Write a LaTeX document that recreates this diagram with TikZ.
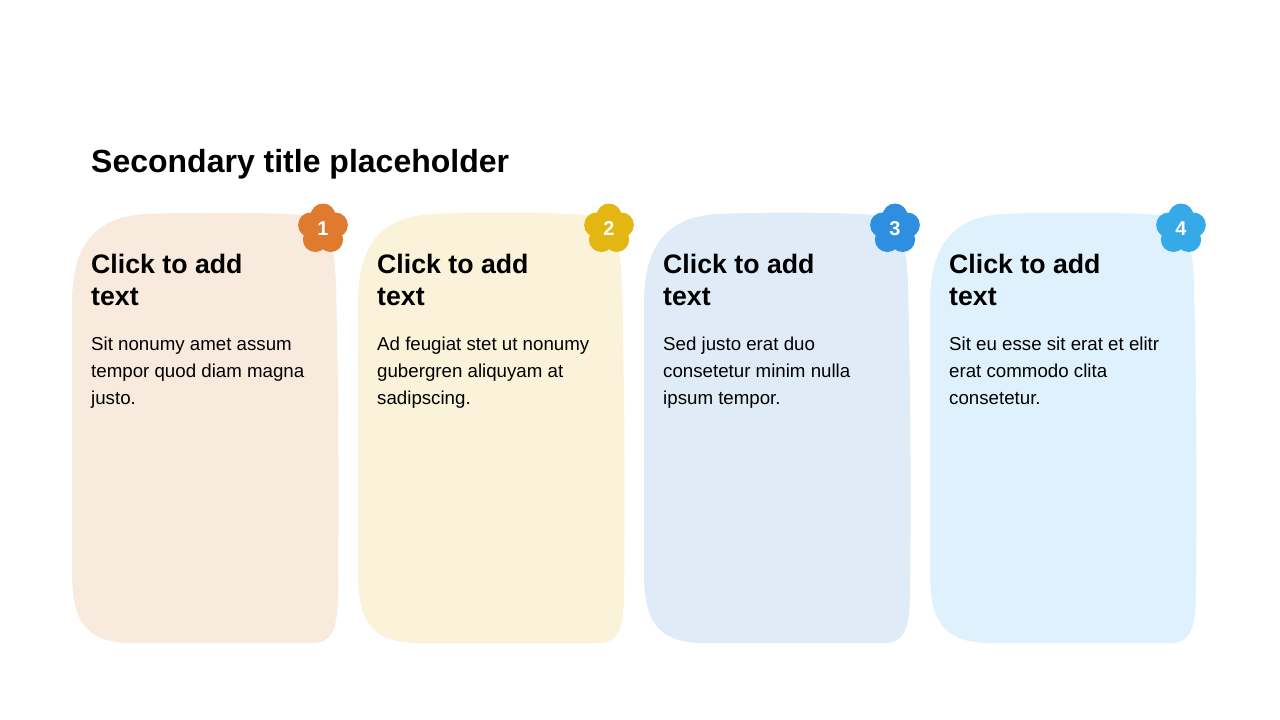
\documentclass[tikz,border=0pt]{standalone}
\usepackage{fontspec}
\setmainfont{Liberation Sans}
\definecolor{paperA}{HTML}{F9EADE}
\definecolor{paperB}{HTML}{FBF2DA}
\definecolor{paperC}{HTML}{DFECF8}
\definecolor{paperD}{HTML}{DFF1FC}
\definecolor{petalA}{HTML}{E07A2E}
\definecolor{petalB}{HTML}{E4B612}
\definecolor{petalC}{HTML}{2E8EDF}
\definecolor{petalD}{HTML}{36AAE8}

\tikzset{
  slide/.style={x=1pt,y=-1pt,
    every node/.style={inner sep=0pt},
    title/.style={anchor=base west,font=\bfseries\fontsize{32}{38}\selectfont},
    head/.style={anchor=base west,align=left,font=\bfseries\fontsize{26.7}{32}\selectfont},
    body/.style={anchor=base west,align=left,font=\fontsize{18.7}{27}\selectfont},
    badge/.style={circle,minimum size=28pt,text=white,font=\bfseries\fontsize{20}{20}\selectfont},
  }
}
\newcommand{\paper}[1]{
    \fill[#1] (0,90) .. controls (0,30) and (25,3) .. (75,1)
        .. controls (120,-1) and (190,-1) .. (230,2)
        .. controls (258,5) and (262,30) .. (264,70)
        .. controls (267,200) and (267,300) .. (266,380)
        .. controls (266,420) and (258,430) .. (240,430)
        -- (55,430) .. controls (15,428) and (0,410) .. (0,360) -- cycle;
}
\newcommand{\flower}[1]{
    \foreach \a in {54,126,198,270,342}
        \fill[#1] (\a:13) circle (12.5);
    \fill[#1] (0,0) circle (14);
}

\begin{document}
\begin{tikzpicture}[slide]
    \useasboundingbox (0,0) rectangle (1280,720);
    \node[title] (title) at (91,172) {Secondary title placeholder};

    \foreach \i/\x/\col/\txt in {
        1/72/A/{Sit nonumy amet assum\\tempor quod diam magna\\justo.},
        2/358/B/{Ad feugiat stet ut nonumy\\gubergren aliquyam at\\sadipscing.},
        3/644/C/{Sed justo erat duo\\consetetur minim nulla\\ipsum tempor.},
        4/930/D/{Sit eu esse sit erat et elitr\\erat commodo clita\\consetetur.}}
    {
        \begin{scope}[shift={(\x,213)}]
            \paper{paper\col}
            \coordinate (card\i) at (0,0);
            % base anchor sits on the last line
            \node[head] (head\i) at (19,92) {Click to add\\text};
            \node[body] (body\i) at (19,191) {\txt};
            \begin{scope}[shift={(251,16)}]
                \flower{petal\col}
            \end{scope}
            \node[badge] (badge\i) at (251,16) {\i};
        \end{scope}
    }
\end{tikzpicture}
\end{document}
